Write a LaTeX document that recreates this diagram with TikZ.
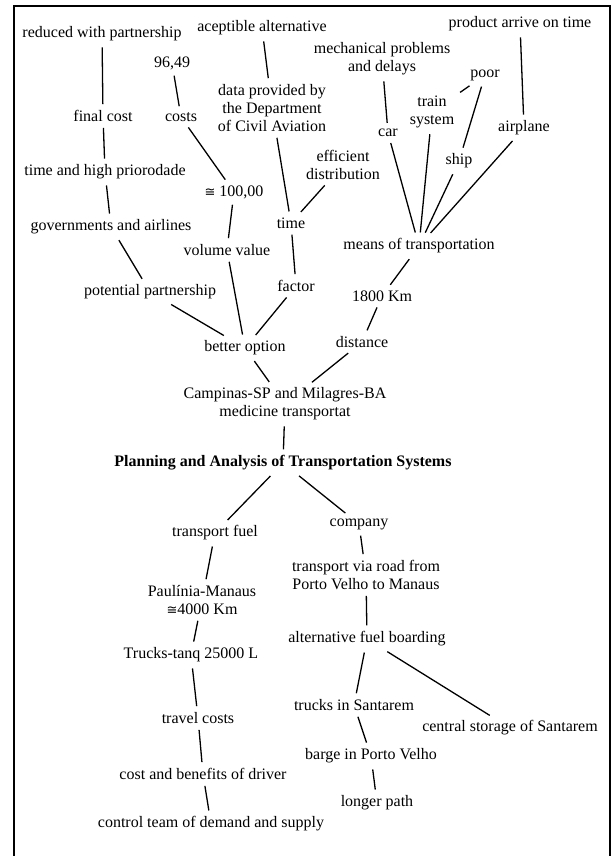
\documentclass[tikz,border=0pt]{standalone}
\usepackage{fontspec}
\usepackage{amsmath}
\usepackage{amssymb}
\setmainfont{Liberation Serif}
\newfontfamily\dejasans{DejaVu Sans}
\newcommand{\congsym}{{\dejasans\fontsize{13}{18}\selectfont ≅}}

\begin{document}
\begin{tikzpicture}[
x=1pt,y=-1pt,
every node/.style={font=\fontsize{16}{18}\selectfont,align=center,inner sep=4pt},
link/.style={line width=1.3pt,shorten <=2pt,shorten >=2pt},
]
\useasboundingbox (0,0) rectangle (612,856);
\draw[line width=2pt] (14,860) -- (14,6) -- (610,6) -- (610,860);

\node (red) at (102,34) {reduced with partnership};
\node (acc) at (262,28) {aceptible alternative};
\node (prod) at (520,24) {product arrive on time};
\node (mech) at (382,59) {mechanical problems\\and delays};
\node (v96) at (172,63) {96,49};
\node (poor) at (485,75) {poor};
\node (data) at (272,108) {data provided by\\the Department\\of Civil Aviation};
\node (train) at (432,112) {train\\system};
\node (final) at (103,116) {final cost};
\node (costs) at (181,117) {costs};
\node (car) at (388,133) {car};
\node (air) at (524,128) {airplane};
\node (ship) at (459,161) {ship};
\node (eff) at (343,165) {efficient\\distribution};
\node (tahp) at (105,172) {time and high priorodade};
\node (c100) at (234,192) {\congsym\ 100,00};
\node (time) at (291,223) {time};
\node (gov) at (111,227) {governments and airlines};
\node (means) at (419,246) {means of transportation};
\node (vol) at (227,250) {volume value};
\node (fact) at (296,286) {factor};
\node (pot) at (150,292) {potential partnership};
\node (km) at (382,296) {1800 Km};
\node (dist) at (362,342) {distance};
\node (better) at (245,348) {better option};
\node (camp) at (285,404) {Campinas-SP and Milagres-BA\\medicine transportat};
\node[font=\fontsize{16}{18}\selectfont\bfseries] (plan) at (283,463) {Planning and Analysis of Transportation Systems};
\node (fuel) at (215,533) {transport fuel};
\node (comp) at (359,524) {company};
\node (via) at (366,575) {transport via road from\\Porto Velho to Manaus};
\node (paul) at (202,600) {Paulínia-Manaus\\\congsym4000 Km};
\node (alt) at (367,639) {alternative fuel boarding};
\node (trk) at (191,655) {Trucks-tanq 25000 L};
\node (sant) at (354,705) {trucks in Santarem};
\node (travel) at (198,718) {travel costs};
\node (stor) at (510,728) {central storage of Santarem};
\node (barge) at (371,756) {barge in Porto Velho};
\node (driver) at (203,774) {cost and benefits of driver};
\node (longer) at (377,803) {longer path};
\node (ctrl) at (211,824) {control team of demand and supply};

\draw[link] (red) -- (final);
\draw[link] (final) -- (tahp);
\draw[link] (tahp) -- (gov);
\draw[link] (gov) -- (pot);
\draw[link] (pot) -- (better);
\draw[link] (v96) -- (costs);
\draw[link] (costs) -- (c100);
\draw[link] (c100) -- (vol);
\draw[link] (vol) -- (better);
\draw[link] (acc) -- (data);
\draw[link] (data) -- (time);
\draw[link] (eff) -- (time);
\draw[link] (time) -- (fact);
\draw[link] (fact) -- (better);
\draw[link] (mech) -- (car);
\draw[link] (poor) -- (train);
\draw[link] (poor) -- (ship);
\draw[link] (prod) -- (air);
\draw[link] (car) -- (means);
\draw[link] (train) -- (means);
\draw[link] (ship) -- (means);
\draw[link] (air) -- (means);
\draw[link] (means) -- (km);
\draw[link] (km) -- (dist);
\draw[link] (dist) -- (camp);
\draw[link] (better) -- (camp);
\draw[link] (camp) -- (plan);
\draw[link] (plan) -- (fuel);
\draw[link] (plan) -- (comp);
\draw[link] (fuel) -- (paul);
\draw[link] (paul) -- (trk);
\draw[link] (trk) -- (travel);
\draw[link] (travel) -- (driver);
\draw[link] (driver) -- (ctrl);
\draw[link] (comp) -- (via);
\draw[link] (via) -- (alt);
\draw[link] (alt) -- (sant);
\draw[link] (alt) -- (stor);
\draw[link] (sant) -- (barge);
\draw[link] (barge) -- (longer);
\end{tikzpicture}
\end{document}
